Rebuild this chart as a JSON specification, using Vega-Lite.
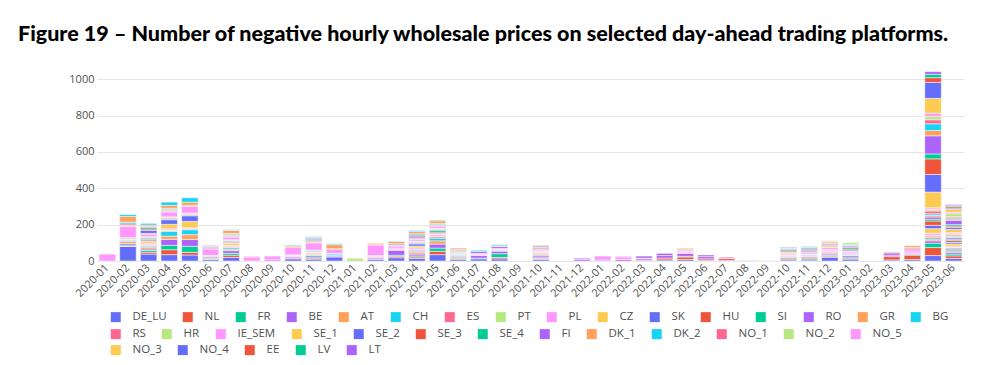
{
"$schema": "https://vega.github.io/schema/vega-lite/v6.json",
"width": 867, "height": 199,
"autosize": "none",
"padding": {"left": 97, "top": 62, "right": 36, "bottom": 104},
"background": "white",
"title": {"text": "Figure 19 – Number of negative hourly wholesale prices on selected day-ahead trading platforms.", "anchor": "start", "frame": "group", "dx": -79, "font": "Lato", "fontSize": 21.5, "fontWeight": 900, "color": "#000000", "offset": 17},
"data": {"values": [
{"month":"2020-01","zone":"IE_SEM","value":38},
{"month":"2020-02","zone":"DE_LU","value":80},{"month":"2020-02","zone":"NL","value":2},{"month":"2020-02","zone":"FR","value":6},{"month":"2020-02","zone":"BE","value":8},{"month":"2020-02","zone":"AT","value":12},{"month":"2020-02","zone":"CH","value":6},{"month":"2020-02","zone":"PL","value":4},{"month":"2020-02","zone":"CZ","value":6},{"month":"2020-02","zone":"SI","value":4},{"month":"2020-02","zone":"IE_SEM","value":62},{"month":"2020-02","zone":"SE_1","value":4},{"month":"2020-02","zone":"SE_2","value":4},{"month":"2020-02","zone":"SE_3","value":6},{"month":"2020-02","zone":"SE_4","value":6},{"month":"2020-02","zone":"FI","value":4},{"month":"2020-02","zone":"DK_1","value":32},{"month":"2020-02","zone":"DK_2","value":10},
{"month":"2020-03","zone":"DE_LU","value":38},{"month":"2020-03","zone":"NL","value":10},{"month":"2020-03","zone":"FR","value":10},{"month":"2020-03","zone":"BE","value":8},{"month":"2020-03","zone":"AT","value":10},{"month":"2020-03","zone":"CH","value":6},{"month":"2020-03","zone":"ES","value":4},{"month":"2020-03","zone":"PT","value":4},{"month":"2020-03","zone":"PL","value":8},{"month":"2020-03","zone":"CZ","value":12},{"month":"2020-03","zone":"SK","value":6},{"month":"2020-03","zone":"HU","value":4},{"month":"2020-03","zone":"SI","value":6},{"month":"2020-03","zone":"RO","value":4},{"month":"2020-03","zone":"HR","value":4},{"month":"2020-03","zone":"IE_SEM","value":14},{"month":"2020-03","zone":"SE_1","value":4},{"month":"2020-03","zone":"SE_2","value":16},{"month":"2020-03","zone":"SE_3","value":8},{"month":"2020-03","zone":"SE_4","value":8},{"month":"2020-03","zone":"FI","value":6},{"month":"2020-03","zone":"DK_1","value":8},{"month":"2020-03","zone":"DK_2","value":9},
{"month":"2020-04","zone":"DE_LU","value":35},{"month":"2020-04","zone":"NL","value":27},{"month":"2020-04","zone":"FR","value":24},{"month":"2020-04","zone":"BE","value":33},{"month":"2020-04","zone":"AT","value":18},{"month":"2020-04","zone":"CH","value":26},{"month":"2020-04","zone":"ES","value":4},{"month":"2020-04","zone":"PT","value":4},{"month":"2020-04","zone":"PL","value":6},{"month":"2020-04","zone":"CZ","value":25},{"month":"2020-04","zone":"SK","value":25},{"month":"2020-04","zone":"HU","value":4},{"month":"2020-04","zone":"SI","value":4},{"month":"2020-04","zone":"RO","value":4},{"month":"2020-04","zone":"HR","value":4},{"month":"2020-04","zone":"IE_SEM","value":27},{"month":"2020-04","zone":"SE_1","value":4},{"month":"2020-04","zone":"SE_2","value":4},{"month":"2020-04","zone":"SE_3","value":4},{"month":"2020-04","zone":"SE_4","value":4},{"month":"2020-04","zone":"FI","value":4},{"month":"2020-04","zone":"DK_1","value":16},{"month":"2020-04","zone":"DK_2","value":18},
{"month":"2020-05","zone":"DE_LU","value":33},{"month":"2020-05","zone":"NL","value":15},{"month":"2020-05","zone":"FR","value":33},{"month":"2020-05","zone":"BE","value":37},{"month":"2020-05","zone":"AT","value":27},{"month":"2020-05","zone":"CH","value":27},{"month":"2020-05","zone":"ES","value":4},{"month":"2020-05","zone":"PT","value":3},{"month":"2020-05","zone":"PL","value":4},{"month":"2020-05","zone":"CZ","value":35},{"month":"2020-05","zone":"SK","value":31},{"month":"2020-05","zone":"HU","value":4},{"month":"2020-05","zone":"SI","value":4},{"month":"2020-05","zone":"RO","value":3},{"month":"2020-05","zone":"HR","value":3},{"month":"2020-05","zone":"IE_SEM","value":37},{"month":"2020-05","zone":"SE_3","value":3},{"month":"2020-05","zone":"SE_4","value":3},{"month":"2020-05","zone":"DK_1","value":18},{"month":"2020-05","zone":"DK_2","value":24},
{"month":"2020-06","zone":"DE_LU","value":8},{"month":"2020-06","zone":"NL","value":4},{"month":"2020-06","zone":"FR","value":4},{"month":"2020-06","zone":"BE","value":6},{"month":"2020-06","zone":"AT","value":4},{"month":"2020-06","zone":"HR","value":5},{"month":"2020-06","zone":"IE_SEM","value":35},{"month":"2020-06","zone":"SE_3","value":4},{"month":"2020-06","zone":"SE_4","value":4},{"month":"2020-06","zone":"FI","value":6},{"month":"2020-06","zone":"DK_1","value":4},{"month":"2020-06","zone":"NO_5","value":4},
{"month":"2020-07","zone":"DE_LU","value":20},{"month":"2020-07","zone":"NL","value":12},{"month":"2020-07","zone":"FR","value":10},{"month":"2020-07","zone":"BE","value":15},{"month":"2020-07","zone":"AT","value":8},{"month":"2020-07","zone":"CH","value":8},{"month":"2020-07","zone":"ES","value":4},{"month":"2020-07","zone":"PT","value":4},{"month":"2020-07","zone":"PL","value":6},{"month":"2020-07","zone":"CZ","value":10},{"month":"2020-07","zone":"SK","value":4},{"month":"2020-07","zone":"HU","value":4},{"month":"2020-07","zone":"SI","value":4},{"month":"2020-07","zone":"RO","value":4},{"month":"2020-07","zone":"HR","value":4},{"month":"2020-07","zone":"IE_SEM","value":15},{"month":"2020-07","zone":"SE_1","value":4},{"month":"2020-07","zone":"SE_2","value":4},{"month":"2020-07","zone":"SE_3","value":4},{"month":"2020-07","zone":"SE_4","value":4},{"month":"2020-07","zone":"FI","value":4},{"month":"2020-07","zone":"DK_1","value":16},{"month":"2020-07","zone":"DK_2","value":4},
{"month":"2020-08","zone":"IE_SEM","value":22},{"month":"2020-08","zone":"NO_5","value":4},
{"month":"2020-09","zone":"BE","value":6},{"month":"2020-09","zone":"IE_SEM","value":21},
{"month":"2020-10","zone":"DE_LU","value":12},{"month":"2020-10","zone":"NL","value":4},{"month":"2020-10","zone":"BE","value":6},{"month":"2020-10","zone":"AT","value":4},{"month":"2020-10","zone":"PL","value":4},{"month":"2020-10","zone":"HR","value":4},{"month":"2020-10","zone":"IE_SEM","value":40},{"month":"2020-10","zone":"SE_3","value":4},{"month":"2020-10","zone":"DK_1","value":6},{"month":"2020-10","zone":"DK_2","value":4},
{"month":"2020-11","zone":"DE_LU","value":10},{"month":"2020-11","zone":"NL","value":6},{"month":"2020-11","zone":"FR","value":6},{"month":"2020-11","zone":"BE","value":8},{"month":"2020-11","zone":"AT","value":6},{"month":"2020-11","zone":"CH","value":4},{"month":"2020-11","zone":"PL","value":6},{"month":"2020-11","zone":"CZ","value":4},{"month":"2020-11","zone":"SI","value":4},{"month":"2020-11","zone":"HR","value":6},{"month":"2020-11","zone":"IE_SEM","value":40},{"month":"2020-11","zone":"SE_1","value":4},{"month":"2020-11","zone":"SE_2","value":4},{"month":"2020-11","zone":"SE_3","value":6},{"month":"2020-11","zone":"SE_4","value":6},{"month":"2020-11","zone":"FI","value":6},{"month":"2020-11","zone":"DK_1","value":4},{"month":"2020-11","zone":"DK_2","value":4},
{"month":"2020-12","zone":"DE_LU","value":22},{"month":"2020-12","zone":"NL","value":4},{"month":"2020-12","zone":"BE","value":4},{"month":"2020-12","zone":"CH","value":8},{"month":"2020-12","zone":"PL","value":4},{"month":"2020-12","zone":"IE_SEM","value":22},{"month":"2020-12","zone":"SE_3","value":4},{"month":"2020-12","zone":"DK_1","value":22},{"month":"2020-12","zone":"DK_2","value":5},
{"month":"2021-01","zone":"PT","value":15},
{"month":"2021-02","zone":"DE_LU","value":8},{"month":"2021-02","zone":"BE","value":8},{"month":"2021-02","zone":"AT","value":4},{"month":"2021-02","zone":"PL","value":6},{"month":"2021-02","zone":"HR","value":4},{"month":"2021-02","zone":"IE_SEM","value":58},{"month":"2021-02","zone":"SE_3","value":3},{"month":"2021-02","zone":"DK_1","value":6},
{"month":"2021-03","zone":"DE_LU","value":18},{"month":"2021-03","zone":"NL","value":8},{"month":"2021-03","zone":"FR","value":6},{"month":"2021-03","zone":"BE","value":27},{"month":"2021-03","zone":"AT","value":4},{"month":"2021-03","zone":"PL","value":8},{"month":"2021-03","zone":"IE_SEM","value":10},{"month":"2021-03","zone":"SE_3","value":4},{"month":"2021-03","zone":"SE_4","value":4},{"month":"2021-03","zone":"FI","value":6},{"month":"2021-03","zone":"DK_1","value":12},{"month":"2021-03","zone":"DK_2","value":3},
{"month":"2021-04","zone":"DE_LU","value":14},{"month":"2021-04","zone":"NL","value":8},{"month":"2021-04","zone":"FR","value":6},{"month":"2021-04","zone":"BE","value":10},{"month":"2021-04","zone":"AT","value":10},{"month":"2021-04","zone":"CH","value":6},{"month":"2021-04","zone":"ES","value":6},{"month":"2021-04","zone":"PT","value":4},{"month":"2021-04","zone":"PL","value":8},{"month":"2021-04","zone":"CZ","value":10},{"month":"2021-04","zone":"SK","value":12},{"month":"2021-04","zone":"HU","value":4},{"month":"2021-04","zone":"SI","value":4},{"month":"2021-04","zone":"RO","value":4},{"month":"2021-04","zone":"HR","value":4},{"month":"2021-04","zone":"IE_SEM","value":10},{"month":"2021-04","zone":"SE_1","value":4},{"month":"2021-04","zone":"SE_2","value":8},{"month":"2021-04","zone":"SE_3","value":6},{"month":"2021-04","zone":"SE_4","value":6},{"month":"2021-04","zone":"FI","value":6},{"month":"2021-04","zone":"DK_1","value":12},{"month":"2021-04","zone":"DK_2","value":6},
{"month":"2021-05","zone":"DE_LU","value":35},{"month":"2021-05","zone":"NL","value":18},{"month":"2021-05","zone":"FR","value":18},{"month":"2021-05","zone":"BE","value":22},{"month":"2021-05","zone":"AT","value":18},{"month":"2021-05","zone":"CH","value":14},{"month":"2021-05","zone":"ES","value":8},{"month":"2021-05","zone":"PT","value":4},{"month":"2021-05","zone":"PL","value":8},{"month":"2021-05","zone":"CZ","value":4},{"month":"2021-05","zone":"SK","value":4},{"month":"2021-05","zone":"HU","value":6},{"month":"2021-05","zone":"SI","value":10},{"month":"2021-05","zone":"RO","value":4},{"month":"2021-05","zone":"GR","value":4},{"month":"2021-05","zone":"HR","value":4},{"month":"2021-05","zone":"IE_SEM","value":10},{"month":"2021-05","zone":"SE_2","value":4},{"month":"2021-05","zone":"SE_3","value":4},{"month":"2021-05","zone":"SE_4","value":4},{"month":"2021-05","zone":"FI","value":4},{"month":"2021-05","zone":"DK_1","value":14},{"month":"2021-05","zone":"DK_2","value":4},
{"month":"2021-06","zone":"DE_LU","value":8},{"month":"2021-06","zone":"NL","value":6},{"month":"2021-06","zone":"FR","value":6},{"month":"2021-06","zone":"BE","value":6},{"month":"2021-06","zone":"AT","value":4},{"month":"2021-06","zone":"CH","value":4},{"month":"2021-06","zone":"PT","value":4},{"month":"2021-06","zone":"PL","value":4},{"month":"2021-06","zone":"HR","value":4},{"month":"2021-06","zone":"IE_SEM","value":6},{"month":"2021-06","zone":"SE_3","value":4},{"month":"2021-06","zone":"SE_4","value":4},{"month":"2021-06","zone":"FI","value":4},{"month":"2021-06","zone":"DK_1","value":7},
{"month":"2021-07","zone":"DE_LU","value":12},{"month":"2021-07","zone":"FR","value":4},{"month":"2021-07","zone":"BE","value":14},{"month":"2021-07","zone":"PL","value":6},{"month":"2021-07","zone":"IE_SEM","value":6},{"month":"2021-07","zone":"FI","value":10},{"month":"2021-07","zone":"DK_2","value":7},
{"month":"2021-08","zone":"DE_LU","value":12},{"month":"2021-08","zone":"NL","value":8},{"month":"2021-08","zone":"FR","value":20},{"month":"2021-08","zone":"BE","value":14},{"month":"2021-08","zone":"AT","value":4},{"month":"2021-08","zone":"CH","value":4},{"month":"2021-08","zone":"PL","value":4},{"month":"2021-08","zone":"IE_SEM","value":4},{"month":"2021-08","zone":"FI","value":10},{"month":"2021-08","zone":"DK_1","value":4},{"month":"2021-08","zone":"DK_2","value":6},
{"month":"2021-10","zone":"DE_LU","value":8},{"month":"2021-10","zone":"NL","value":6},{"month":"2021-10","zone":"FR","value":4},{"month":"2021-10","zone":"BE","value":10},{"month":"2021-10","zone":"AT","value":6},{"month":"2021-10","zone":"CH","value":4},{"month":"2021-10","zone":"PL","value":6},{"month":"2021-10","zone":"CZ","value":4},{"month":"2021-10","zone":"HR","value":4},{"month":"2021-10","zone":"IE_SEM","value":8},{"month":"2021-10","zone":"SE_1","value":4},{"month":"2021-10","zone":"SE_2","value":4},{"month":"2021-10","zone":"SE_3","value":6},{"month":"2021-10","zone":"SE_4","value":4},{"month":"2021-10","zone":"FI","value":6},{"month":"2021-10","zone":"DK_1","value":4},
{"month":"2021-12","zone":"BE","value":8},{"month":"2021-12","zone":"FI","value":7},
{"month":"2022-01","zone":"BE","value":5},{"month":"2022-01","zone":"IE_SEM","value":22},
{"month":"2022-02","zone":"BE","value":8},{"month":"2022-02","zone":"IE_SEM","value":15},{"month":"2022-02","zone":"NO_5","value":4},
{"month":"2022-03","zone":"NL","value":4},{"month":"2022-03","zone":"BE","value":8},{"month":"2022-03","zone":"IE_SEM","value":4},{"month":"2022-03","zone":"FI","value":11},
{"month":"2022-04","zone":"DE_LU","value":6},{"month":"2022-04","zone":"NL","value":10},{"month":"2022-04","zone":"BE","value":14},{"month":"2022-04","zone":"FI","value":12},
{"month":"2022-05","zone":"DE_LU","value":8},{"month":"2022-05","zone":"NL","value":14},{"month":"2022-05","zone":"FR","value":4},{"month":"2022-05","zone":"BE","value":16},{"month":"2022-05","zone":"AT","value":4},{"month":"2022-05","zone":"PL","value":6},{"month":"2022-05","zone":"IE_SEM","value":6},{"month":"2022-05","zone":"FI","value":6},{"month":"2022-05","zone":"DK_1","value":6},
{"month":"2022-06","zone":"DE_LU","value":4},{"month":"2022-06","zone":"NL","value":8},{"month":"2022-06","zone":"BE","value":12},{"month":"2022-06","zone":"FI","value":9},
{"month":"2022-07","zone":"DE_LU","value":4},{"month":"2022-07","zone":"NL","value":10},{"month":"2022-07","zone":"IE_SEM","value":8},
{"month":"2022-08","zone":"IE_SEM","value":3},{"month":"2022-08","zone":"FI","value":2},
{"month":"2022-09","zone":"IE_SEM","value":2},
{"month":"2022-10","zone":"DE_LU","value":6},{"month":"2022-10","zone":"NL","value":6},{"month":"2022-10","zone":"FR","value":6},{"month":"2022-10","zone":"BE","value":4},{"month":"2022-10","zone":"AT","value":4},{"month":"2022-10","zone":"PL","value":4},{"month":"2022-10","zone":"CZ","value":4},{"month":"2022-10","zone":"IE_SEM","value":6},{"month":"2022-10","zone":"SE_1","value":6},{"month":"2022-10","zone":"SE_2","value":4},{"month":"2022-10","zone":"SE_3","value":6},{"month":"2022-10","zone":"SE_4","value":8},{"month":"2022-10","zone":"FI","value":5},{"month":"2022-10","zone":"DK_1","value":2},{"month":"2022-10","zone":"NO_4","value":4},
{"month":"2022-11","zone":"DE_LU","value":6},{"month":"2022-11","zone":"NL","value":6},{"month":"2022-11","zone":"FR","value":6},{"month":"2022-11","zone":"BE","value":6},{"month":"2022-11","zone":"AT","value":4},{"month":"2022-11","zone":"CH","value":4},{"month":"2022-11","zone":"PL","value":4},{"month":"2022-11","zone":"IE_SEM","value":8},{"month":"2022-11","zone":"SE_1","value":4},{"month":"2022-11","zone":"SE_2","value":6},{"month":"2022-11","zone":"SE_3","value":6},{"month":"2022-11","zone":"SE_4","value":6},{"month":"2022-11","zone":"FI","value":6},{"month":"2022-11","zone":"DK_1","value":4},{"month":"2022-11","zone":"DK_2","value":4},
{"month":"2022-12","zone":"DE_LU","value":20},{"month":"2022-12","zone":"NL","value":6},{"month":"2022-12","zone":"FR","value":4},{"month":"2022-12","zone":"BE","value":8},{"month":"2022-12","zone":"AT","value":6},{"month":"2022-12","zone":"CH","value":4},{"month":"2022-12","zone":"ES","value":4},{"month":"2022-12","zone":"PL","value":8},{"month":"2022-12","zone":"CZ","value":4},{"month":"2022-12","zone":"IE_SEM","value":10},{"month":"2022-12","zone":"SE_1","value":6},{"month":"2022-12","zone":"SE_3","value":6},{"month":"2022-12","zone":"SE_4","value":4},{"month":"2022-12","zone":"FI","value":6},{"month":"2022-12","zone":"DK_1","value":8},{"month":"2022-12","zone":"NO_1","value":4},{"month":"2022-12","zone":"NO_2","value":4},
{"month":"2023-01","zone":"DE_LU","value":10},{"month":"2023-01","zone":"NL","value":6},{"month":"2023-01","zone":"FR","value":6},{"month":"2023-01","zone":"BE","value":8},{"month":"2023-01","zone":"AT","value":4},{"month":"2023-01","zone":"CH","value":4},{"month":"2023-01","zone":"PL","value":6},{"month":"2023-01","zone":"IE_SEM","value":6},{"month":"2023-01","zone":"SE_1","value":4},{"month":"2023-01","zone":"SE_2","value":6},{"month":"2023-01","zone":"SE_3","value":6},{"month":"2023-01","zone":"SE_4","value":8},{"month":"2023-01","zone":"FI","value":8},{"month":"2023-01","zone":"DK_1","value":4},{"month":"2023-01","zone":"DK_2","value":4},{"month":"2023-01","zone":"NO_2","value":10},
{"month":"2023-03","zone":"DE_LU","value":6},{"month":"2023-03","zone":"NL","value":18},{"month":"2023-03","zone":"BE","value":8},{"month":"2023-03","zone":"FI","value":12},{"month":"2023-03","zone":"DK_1","value":5},
{"month":"2023-04","zone":"DE_LU","value":8},{"month":"2023-04","zone":"NL","value":24},{"month":"2023-04","zone":"FR","value":4},{"month":"2023-04","zone":"BE","value":6},{"month":"2023-04","zone":"PL","value":8},{"month":"2023-04","zone":"IE_SEM","value":12},{"month":"2023-04","zone":"SE_3","value":6},{"month":"2023-04","zone":"FI","value":6},{"month":"2023-04","zone":"DK_1","value":10},
{"month":"2023-05","zone":"DE_LU","value":30},{"month":"2023-05","zone":"NL","value":44},{"month":"2023-05","zone":"FR","value":24},{"month":"2023-05","zone":"BE","value":13},{"month":"2023-05","zone":"AT","value":10},{"month":"2023-05","zone":"CH","value":8},{"month":"2023-05","zone":"ES","value":8},{"month":"2023-05","zone":"PT","value":6},{"month":"2023-05","zone":"PL","value":10},{"month":"2023-05","zone":"CZ","value":25},{"month":"2023-05","zone":"SK","value":18},{"month":"2023-05","zone":"HU","value":24},{"month":"2023-05","zone":"SI","value":10},{"month":"2023-05","zone":"RO","value":12},{"month":"2023-05","zone":"GR","value":10},{"month":"2023-05","zone":"BG","value":8},{"month":"2023-05","zone":"RS","value":15},{"month":"2023-05","zone":"HR","value":10},{"month":"2023-05","zone":"IE_SEM","value":8},{"month":"2023-05","zone":"SE_1","value":86},{"month":"2023-05","zone":"SE_2","value":97},{"month":"2023-05","zone":"SE_3","value":86},{"month":"2023-05","zone":"SE_4","value":27},{"month":"2023-05","zone":"FI","value":100},{"month":"2023-05","zone":"DK_1","value":29},{"month":"2023-05","zone":"DK_2","value":37},{"month":"2023-05","zone":"NO_1","value":22},{"month":"2023-05","zone":"NO_2","value":18},{"month":"2023-05","zone":"NO_5","value":18},{"month":"2023-05","zone":"NO_3","value":82},{"month":"2023-05","zone":"NO_4","value":88},{"month":"2023-05","zone":"EE","value":26},{"month":"2023-05","zone":"LV","value":18},{"month":"2023-05","zone":"LT","value":15},
{"month":"2023-06","zone":"DE_LU","value":14},{"month":"2023-06","zone":"NL","value":14},{"month":"2023-06","zone":"FR","value":10},{"month":"2023-06","zone":"BE","value":10},{"month":"2023-06","zone":"AT","value":8},{"month":"2023-06","zone":"CH","value":10},{"month":"2023-06","zone":"ES","value":6},{"month":"2023-06","zone":"PT","value":4},{"month":"2023-06","zone":"PL","value":6},{"month":"2023-06","zone":"CZ","value":12},{"month":"2023-06","zone":"SK","value":8},{"month":"2023-06","zone":"HU","value":10},{"month":"2023-06","zone":"SI","value":8},{"month":"2023-06","zone":"RO","value":8},{"month":"2023-06","zone":"GR","value":6},{"month":"2023-06","zone":"BG","value":4},{"month":"2023-06","zone":"RS","value":6},{"month":"2023-06","zone":"HR","value":6},{"month":"2023-06","zone":"IE_SEM","value":6},{"month":"2023-06","zone":"SE_1","value":18},{"month":"2023-06","zone":"SE_2","value":10},{"month":"2023-06","zone":"SE_3","value":8},{"month":"2023-06","zone":"SE_4","value":8},{"month":"2023-06","zone":"FI","value":24},{"month":"2023-06","zone":"DK_1","value":8},{"month":"2023-06","zone":"DK_2","value":6},{"month":"2023-06","zone":"NO_1","value":6},{"month":"2023-06","zone":"NO_2","value":16},{"month":"2023-06","zone":"NO_5","value":8},{"month":"2023-06","zone":"NO_3","value":17},{"month":"2023-06","zone":"NO_4","value":6},{"month":"2023-06","zone":"EE","value":8},{"month":"2023-06","zone":"LV","value":6},{"month":"2023-06","zone":"LT","value":6}
]},
"transform": [{"stack": "value", "groupby": ["month"], "as": ["v0", "v1"]}],
"encoding": {
  "x": {"field": "month", "type": "ordinal", "sort": null,
    "scale": {"domain": ["2020-01","2020-02","2020-03","2020-04","2020-05","2020-06","2020-07","2020-08","2020-09","2020-10","2020-11","2020-12","2021-01","2021-02","2021-03","2021-04","2021-05","2021-06","2021-07","2021-08","2021-09","2021-10","2021-11","2021-12","2022-01","2022-02","2022-03","2022-04","2022-05","2022-06","2022-07","2022-08","2022-09","2022-10","2022-11","2022-12","2023-01","2023-02","2023-03","2023-04","2023-05","2023-06"], "paddingInner": 0.2, "paddingOuter": 0.1},
    "axis": {"title": null, "labelAngle": -45, "labelAlign": "right", "labelBaseline": "middle", "labelPadding": 5, "labelFont": "Open Sans", "labelFontSize": 11, "labelColor": "#505050", "ticks": false, "domain": false, "grid": false}},
  "y": {"field": "v0", "type": "quantitative", "scale": {"domain": [0, 1095], "nice": false},
    "axis": {"title": null, "values": [0, 200, 400, 600, 800, 1000], "format": "d", "domain": false, "ticks": false, "labelPadding": 3, "labelFont": "Open Sans", "labelFontSize": 11, "labelColor": "#505050", "grid": true, "gridColor": "#e6e6e6", "gridWidth": 1}},
  "y2": {"field": "v1"}
},
"layer": [
  {"transform": [{"filter": {"field": "zone", "oneOf": ["DE_LU","NL","FR","BE","AT","CH","ES","PT","PL","CZ","SK","HU","SI","RO","GR","BG"]}}],
   "mark": {"type": "bar", "stroke": "white", "strokeWidth": 0.5},
   "encoding": {"color": {"field": "zone", "type": "nominal",
     "scale": {"domain": ["DE_LU","NL","FR","BE","AT","CH","ES","PT","PL","CZ","SK","HU","SI","RO","GR","BG"], "range": ["#636EFA","#EF553B","#00CC96","#AB63FA","#FFA15A","#19D3F3","#FF6692","#B6E880","#FF97FF","#FECB52","#636EFA","#EF553B","#00CC96","#AB63FA","#FFA15A","#19D3F3"]},
     "legend": {"orient": "none", "legendX": 13, "legendY": 249, "direction": "horizontal", "columns": 16, "title": null, "padding": 0, "symbolType": "square", "symbolSize": 100, "symbolStrokeWidth": 0, "labelFont": "Open Sans", "labelFontSize": 11.5, "labelColor": "#505050", "labelOffset": 11, "columnPadding": 15}}}},
  {"transform": [{"filter": {"field": "zone", "oneOf": ["RS","HR","IE_SEM","SE_1","SE_2","SE_3","SE_4","FI","DK_1","DK_2","NO_1","NO_2","NO_5"]}}],
   "mark": {"type": "bar", "stroke": "white", "strokeWidth": 0.5},
   "encoding": {"color": {"field": "zone", "type": "nominal",
     "scale": {"domain": ["RS","HR","IE_SEM","SE_1","SE_2","SE_3","SE_4","FI","DK_1","DK_2","NO_1","NO_2","NO_5"], "range": ["#FF6692","#B6E880","#FF97FF","#FECB52","#636EFA","#EF553B","#00CC96","#AB63FA","#FFA15A","#19D3F3","#FF6692","#B6E880","#FF97FF"]},
     "legend": {"orient": "none", "legendX": 13, "legendY": 266, "direction": "horizontal", "columns": 13, "title": null, "padding": 0, "symbolType": "square", "symbolSize": 100, "symbolStrokeWidth": 0, "labelFont": "Open Sans", "labelFontSize": 11.5, "labelColor": "#505050", "labelOffset": 11, "columnPadding": 15}}}},
  {"transform": [{"filter": {"field": "zone", "oneOf": ["NO_3","NO_4","EE","LV","LT"]}}],
   "mark": {"type": "bar", "stroke": "white", "strokeWidth": 0.5},
   "encoding": {"color": {"field": "zone", "type": "nominal",
     "scale": {"domain": ["NO_3","NO_4","EE","LV","LT"], "range": ["#FECB52","#636EFA","#EF553B","#00CC96","#AB63FA"]},
     "legend": {"orient": "none", "legendX": 13, "legendY": 282, "direction": "horizontal", "columns": 5, "title": null, "padding": 0, "symbolType": "square", "symbolSize": 100, "symbolStrokeWidth": 0, "labelFont": "Open Sans", "labelFontSize": 11.5, "labelColor": "#505050", "labelOffset": 11, "columnPadding": 15}}}}
],
"resolve": {"scale": {"color": "independent"}, "legend": {"color": "independent"}},
"config": {"view": {"stroke": null}}
}
